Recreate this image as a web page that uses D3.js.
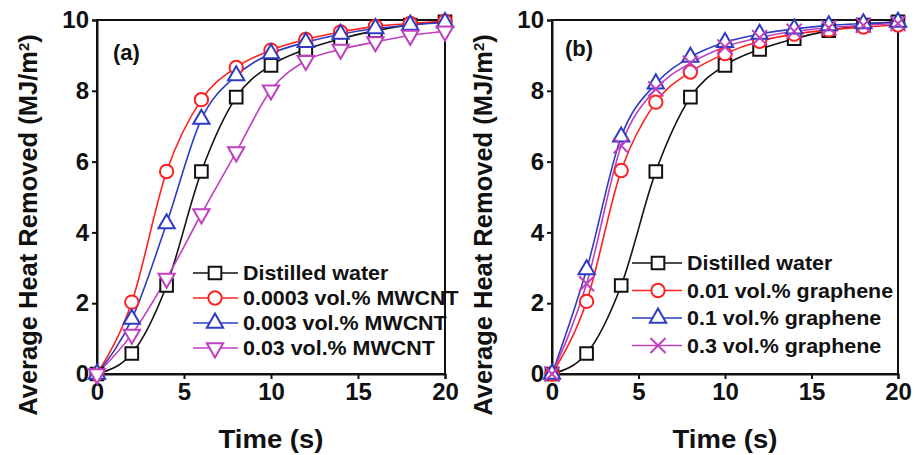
<!DOCTYPE html>
<html>
<head>
<meta charset="utf-8">
<script src="https://cdn.jsdelivr.net/npm/d3@7"></script>
<style>
  body { margin: 0; background: #fff; }
  text { font-family: "Liberation Sans", Arial, sans-serif; font-weight: bold; fill: #111; }
</style>
</head>
<body>
<svg id="chart" width="915" height="455"></svg>
<script>
// time points (s)
const time = [0, 2, 4, 6, 8, 10, 12, 14, 16, 18, 20];

// panel (a) - MWCNT
const water = [0, 0.58, 2.5, 5.72, 7.82, 8.72, 9.17, 9.47, 9.7, 9.86, 9.95];
const mwcnt0003 = [0, 2.03, 5.72, 7.75, 8.66, 9.15, 9.45, 9.66, 9.82, 9.9, 9.97];
const mwcnt003 = [0, 1.55, 4.25, 7.2, 8.43, 9.05, 9.37, 9.6, 9.76, 9.86, 9.93];
const mwcnt03 = [0, 1.12, 2.7, 4.52, 6.27, 8.02, 8.85, 9.17, 9.38, 9.56, 9.68];

// panel (b) - graphene
const gr001 = [0, 2.05, 5.75, 7.68, 8.53, 9.05, 9.4, 9.6, 9.72, 9.8, 9.86];
const gr01 = [0, 2.95, 6.7, 8.2, 8.95, 9.37, 9.6, 9.75, 9.84, 9.9, 9.94];
const gr03 = [0, 2.55, 6.45, 8.05, 8.78, 9.24, 9.5, 9.68, 9.78, 9.85, 9.9];

const xTicks = [0, 5, 10, 15, 20];
const yTicks = [0, 2, 4, 6, 8, 10];

const BLACK = "#111", RED = "#ff2020", BLUE = "#2e3cc4", MAG = "#bf3fbf";

// downward triangle marker
const triDown = {
  draw(ctx, size) {
    const s = Math.sqrt(size * 4 / Math.sqrt(3));
    const h = s * Math.sqrt(3) / 2;
    ctx.moveTo(0, h * 2 / 3);
    ctx.lineTo(s / 2, -h / 3);
    ctx.lineTo(-s / 2, -h / 3);
    ctx.closePath();
  }
};

const panels = [
  {
    left: 97, width: 348, tag: "(a)", tagX: 16, tagY: 40, titleX: -60,
    legX0: 96, legX1: 141, legM: 118, legT: 146, legY: 253, legStep: 25,
    series: [
      { name: "Distilled water", vals: water, color: BLACK, sym: d3.symbolSquare, size: 160 },
      { name: "0.0003 vol.% MWCNT", vals: mwcnt0003, color: RED, sym: d3.symbolCircle, size: 140 },
      { name: "0.003 vol.% MWCNT", vals: mwcnt003, color: BLUE, sym: d3.symbolTriangle, size: 115 },
      { name: "0.03 vol.% MWCNT", vals: mwcnt03, color: MAG, sym: triDown, size: 115 }
    ]
  },
  {
    left: 552, width: 346, tag: "(b)", tagX: 13, tagY: 36, titleX: -60,
    legX0: 80, legX1: 130, legM: 106, legT: 135, legY: 243, legStep: 27.5,
    series: [
      { name: "Distilled water", vals: water, color: BLACK, sym: d3.symbolSquare, size: 160 },
      { name: "0.01 vol.% graphene", vals: gr001, color: RED, sym: d3.symbolCircle, size: 140 },
      { name: "0.1 vol.% graphene", vals: gr01, color: BLUE, sym: d3.symbolTriangle, size: 115 },
      { name: "0.3 vol.% graphene", vals: gr03, color: MAG, sym: d3.symbolTimes, size: 150 }
    ]
  }
];

const svg = d3.select("#chart");
const plotTop = 20, plotH = 354;

panels.forEach(p => {
  const g = svg.append("g").attr("transform", `translate(${p.left},${plotTop})`);
  const x = d3.scaleLinear().domain([0, 20]).range([0, p.width]);
  const y = d3.scaleLinear().domain([0, 10]).range([plotH, 0]);

  const xAxis = g.append("g").attr("transform", `translate(0,${plotH})`)
    .call(d3.axisBottom(x).tickValues(xTicks).tickSize(5).tickPadding(4));
  const yAxis = g.append("g")
    .call(d3.axisLeft(y).tickValues(yTicks).tickSize(5).tickPadding(3));
  [xAxis, yAxis].forEach(a => {
    a.selectAll("path").attr("stroke", "#111").attr("stroke-width", 2);
    a.selectAll("line").attr("stroke", "#111").attr("stroke-width", 2);
    a.selectAll("text").style("font-size", "24px").attr("fill", "#111");
  });

  // frame
  g.append("rect").attr("width", p.width).attr("height", plotH)
    .attr("fill", "none").attr("stroke", "#111").attr("stroke-width", 2);

  const line = d3.line().x((d, i) => x(time[i])).y(d => y(d)).curve(d3.curveMonotoneX);

  p.series.forEach(s => {
    g.append("path").datum(s.vals).attr("d", line)
      .attr("fill", "none").attr("stroke", s.color).attr("stroke-width", 1.6);
  });
  p.series.forEach(s => {
    g.selectAll(null).data(s.vals).enter().append("path")
      .attr("transform", (d, i) => `translate(${x(time[i])},${y(d)})`)
      .attr("d", d3.symbol().type(s.sym).size(s.size))
      .attr("fill", s.sym === d3.symbolTimes ? "none" : "#fff")
      .attr("stroke", s.color).attr("stroke-width", 2);
  });

  // panel tag
  g.append("text").attr("x", p.tagX).attr("y", p.tagY)
    .style("font-size", "22px").text(p.tag);

  // legend
  const leg = g.append("g");
  p.series.forEach((s, i) => {
    const ly = p.legY + i * p.legStep;
    leg.append("line").attr("x1", p.legX0).attr("x2", p.legX1)
      .attr("y1", ly).attr("y2", ly).attr("stroke", s.color).attr("stroke-width", 1.6);
    leg.append("path").attr("transform", `translate(${p.legM},${ly})`)
      .attr("d", d3.symbol().type(s.sym).size(s.size))
      .attr("fill", s.sym === d3.symbolTimes ? "none" : "#fff")
      .attr("stroke", s.color).attr("stroke-width", 2);
    leg.append("text").attr("transform", `translate(${p.legT},${ly}) scale(1.1,1)`)
      .attr("dy", "0.36em").style("font-size", "19.5px").text(s.name);
  });

  // axis titles
  g.append("text").attr("transform", `translate(${p.width / 2},${428}) scale(1.1,1)`)
    .attr("text-anchor", "middle").style("font-size", "25px").text("Time (s)");
  const yt = g.append("text")
    .attr("transform", `translate(${p.titleX},${205}) rotate(-90)`)
    .attr("text-anchor", "middle").style("font-size", "25.5px");
  yt.append("tspan").text("Average Heat Removed (MJ/m");
  yt.append("tspan").attr("baseline-shift", "super").style("font-size", "15px").text("2");
  yt.append("tspan").text(")");
});
</script>
</body>
</html>
